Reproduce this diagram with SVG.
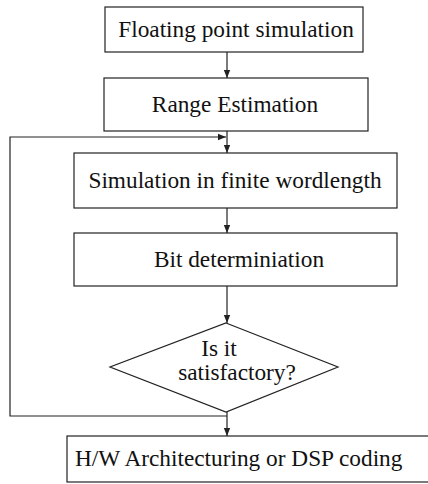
<svg xmlns="http://www.w3.org/2000/svg" width="428" height="484" viewBox="0 0 428 484">
  <style>
    .box { fill: #fff; stroke: #222; stroke-width: 1.2; }
    .lbl { font-family: 'Liberation Serif', 'DejaVu Serif', 'Times New Roman', serif; font-size: 23.3px; fill: #111; text-anchor: middle; }
    .edge { fill: none; stroke: #222; stroke-width: 1.2; }
  </style>
  <defs>
    <marker id="arrow" viewBox="0 0 10 10" refX="10" refY="5" markerWidth="8" markerHeight="8" markerUnits="userSpaceOnUse" orient="auto">
      <path d="M0,1 L10,5 L0,9 Z" fill="#222"/>
    </marker>
  </defs>
  <rect width="428" height="484" fill="#fff"/>

  <g id="edges">
    <line class="edge" x1="227" y1="52" x2="227" y2="78" marker-end="url(#arrow)"/>
    <line class="edge" x1="227" y1="131" x2="227" y2="153" marker-end="url(#arrow)"/>
    <line class="edge" x1="227" y1="208" x2="227" y2="233" marker-end="url(#arrow)"/>
    <line class="edge" x1="227" y1="286" x2="227" y2="323" marker-end="url(#arrow)"/>
    <line class="edge" x1="227" y1="412" x2="227" y2="436" marker-end="url(#arrow)"/>
    <polyline class="edge" points="227,416 10,416 10,137 226,137" marker-end="url(#arrow)"/>
  </g>

  <g id="floating-point">
    <rect class="box" x="105" y="7" width="258" height="45"/>
    <text class="lbl" x="236" y="37">Floating point simulation</text>
  </g>
  <g id="range-estimation">
    <rect class="box" x="104" y="78" width="264" height="53"/>
    <text class="lbl" x="235" y="112">Range Estimation</text>
  </g>
  <g id="finite-wordlength">
    <rect class="box" x="74" y="153" width="323" height="55"/>
    <text class="lbl" x="235" y="188">Simulation in finite wordlength</text>
  </g>
  <g id="bit-determination">
    <rect class="box" x="74" y="233" width="323" height="53"/>
    <text class="lbl" x="239" y="267">Bit determiniation</text>
  </g>
  <g id="satisfactory">
    <polygon class="box" points="226,323 338,367 226,412 110,367"/>
    <text class="lbl" x="219" y="356">Is it</text>
    <text class="lbl" x="237" y="380">satisfactory?</text>
  </g>
  <g id="hw-dsp">
    <rect class="box" x="67" y="436" width="370" height="46"/>
    <text class="lbl" x="75" y="466" style="text-anchor:start">H/W Architecturing or DSP coding</text>
  </g>
</svg>
